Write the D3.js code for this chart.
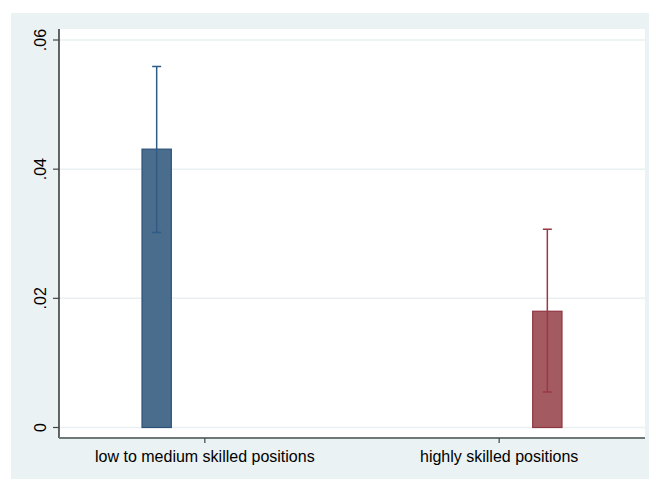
<!DOCTYPE html>
<html lang="en">
  <head>
    <meta charset="utf-8">
    <title>bar with ci</title>
    <style>
      body { margin: 0; background: #fff; }
      text { font-family: 'Liberation Sans', Arial, sans-serif; }
    </style>
  </head>
  <body>
    <div id="chart-area"></div>
    <script src="https://cdn.jsdelivr.net/npm/d3@7"></script>
    <script>
      const categories = ['low to medium skilled positions', 'highly skilled positions'];
      const means = [0.0431, 0.0180];
      const ci_low = [0.0302, 0.0055];
      const ci_high = [0.0559, 0.0307];
      const bar_pos = [1, 4];
      const label_pos = [1.37, 3.63];
      const y_ticks = [0, 0.02, 0.04, 0.06];
      const y_labels = ['0', '.02', '.04', '.06'];
      const fills = ['#4a6d8e', '#a45a61'];
      const strokes = ['#2b5279', '#8f3540'];
      const err_colors = ['#2f5b84', '#983a45'];

      const svg_width = 649;
      const svg_height = 479;

      const svg = d3.select('#chart-area')
        .append('svg')
        .attr('width', svg_width)
        .attr('height', svg_height);

      // outer graph region
      svg.append('rect')
        .attr('x', 11).attr('y', 13)
        .attr('width', svg_width - 11).attr('height', svg_height - 13)
        .attr('fill', '#eaf2f3');

      const plot = {left: 59, right: 645, top: 29, bottom: 437};

      svg.append('rect')
        .attr('x', plot.left).attr('y', plot.top)
        .attr('width', plot.right - plot.left).attr('height', plot.bottom - plot.top)
        .attr('fill', '#ffffff');

      const x_scale = d3.scaleLinear()
        .domain([0.25, 4.75])
        .range([plot.left, plot.right]);

      const y_scale = d3.scaleLinear()
        .domain([0, 0.06])
        .range([427.5, 40]);

      // gridlines
      svg.selectAll('line.grid').data(y_ticks).enter()
        .append('line')
        .attr('class', 'grid')
        .attr('x1', plot.left).attr('x2', plot.right)
        .attr('y1', d => y_scale(d)).attr('y2', d => y_scale(d))
        .attr('stroke', '#e8f0f1')
        .attr('stroke-width', 1.5);

      const bar_w = x_scale(0.225) - x_scale(0);
      const data = categories.map((c, i) => ({
        cat: c, mean: means[i], lo: ci_low[i], hi: ci_high[i], pos: bar_pos[i], i: i
      }));

      svg.selectAll('rect.bar').data(data).enter()
        .append('rect')
        .attr('class', 'bar')
        .attr('x', d => x_scale(d.pos) - bar_w / 2)
        .attr('y', d => y_scale(d.mean))
        .attr('width', bar_w)
        .attr('height', d => y_scale(0) - y_scale(d.mean))
        .attr('fill', d => fills[d.i])
        .attr('stroke', d => strokes[d.i])
        .attr('stroke-width', 1.2);

      // error bars
      const cap = 4.5;
      const err = svg.selectAll('g.err').data(data).enter()
        .append('g')
        .attr('class', 'err')
        .attr('stroke', d => err_colors[d.i])
        .attr('stroke-width', 1.5);
      err.append('line')
        .attr('x1', d => x_scale(d.pos)).attr('x2', d => x_scale(d.pos))
        .attr('y1', d => y_scale(d.lo)).attr('y2', d => y_scale(d.hi));
      err.append('line')
        .attr('x1', d => x_scale(d.pos) - cap).attr('x2', d => x_scale(d.pos) + cap)
        .attr('y1', d => y_scale(d.hi)).attr('y2', d => y_scale(d.hi));
      err.append('line')
        .attr('x1', d => x_scale(d.pos) - cap).attr('x2', d => x_scale(d.pos) + cap)
        .attr('y1', d => y_scale(d.lo)).attr('y2', d => y_scale(d.lo));

      // y axis
      svg.append('line')
        .attr('x1', plot.left).attr('x2', plot.left)
        .attr('y1', plot.top).attr('y2', plot.bottom + 1)
        .attr('stroke', '#000').attr('stroke-width', 1.2);

      svg.selectAll('line.ytick').data(y_ticks).enter()
        .append('line')
        .attr('x1', plot.left - 6).attr('x2', plot.left)
        .attr('y1', d => y_scale(d)).attr('y2', d => y_scale(d))
        .attr('stroke', '#444').attr('stroke-width', 1.2);

      svg.selectAll('text.ylab').data(y_ticks).enter()
        .append('text')
        .attr('transform', d => `translate(46,${y_scale(d)}) rotate(-90)`)
        .attr('text-anchor', 'middle')
        .attr('font-size', '16px')
        .attr('fill', '#000')
        .text((d, i) => y_labels[i]);

      // x axis
      svg.append('line')
        .attr('x1', plot.left).attr('x2', plot.right)
        .attr('y1', plot.bottom + 1).attr('y2', plot.bottom + 1)
        .attr('stroke', '#6e7878').attr('stroke-width', 2);

      svg.selectAll('line.xtick').data(label_pos).enter()
        .append('line')
        .attr('x1', d => x_scale(d)).attr('x2', d => x_scale(d))
        .attr('y1', plot.bottom + 1).attr('y2', plot.bottom + 6)
        .attr('stroke', '#444').attr('stroke-width', 1.2);

      svg.selectAll('text.xlab').data(label_pos).enter()
        .append('text')
        .attr('x', d => x_scale(d))
        .attr('y', 462)
        .attr('text-anchor', 'middle')
        .attr('font-size', '16px')
        .attr('fill', '#000')
        .text((d, i) => categories[i]);
    </script>
  </body>
</html>
